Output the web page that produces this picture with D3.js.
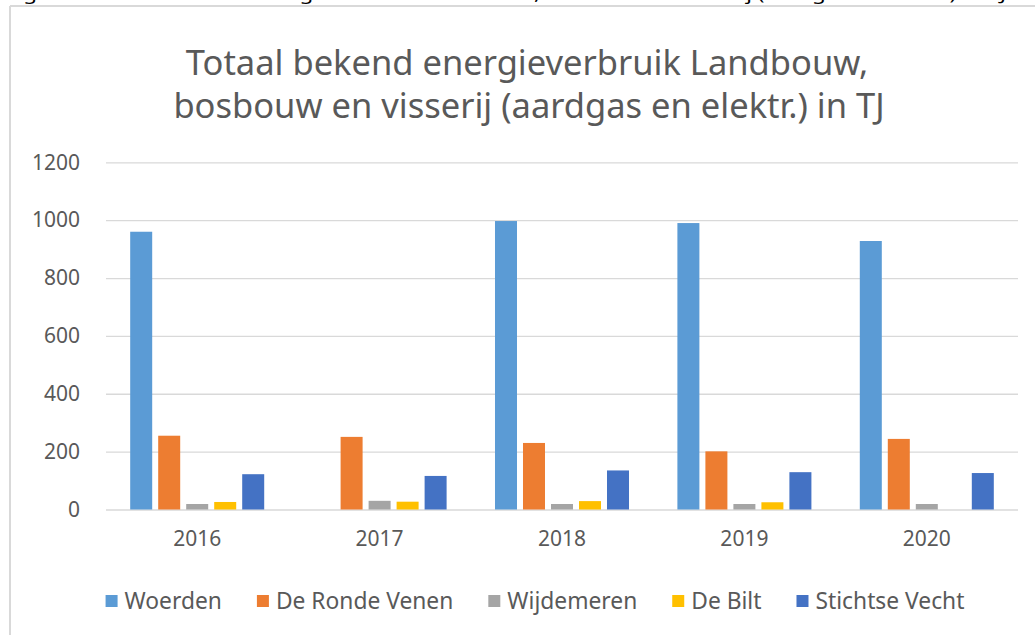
<!DOCTYPE html>
<html>
<head>
<meta charset="utf-8">
<script src="https://cdn.jsdelivr.net/npm/d3@7"></script>
<style>
  html, body { margin: 0; padding: 0; background: #fff; }
  svg { display: block; font-family: "Noto Sans", "Open Sans", sans-serif; }
</style>
</head>
<body>
<svg id="chart" width="1035" height="635"></svg>
<script>
// Energieverbruik per gemeente (TJ), Landbouw, bosbouw en visserij
const years = ["2016", "2017", "2018", "2019", "2020"];
const seriesNames = ["Woerden", "De Ronde Venen", "Wijdemeren", "De Bilt", "Stichtse Vecht"];
const woerden       = [960, null, 997, 990, 928];
const deRondeVenen  = [255, 251, 230, 201, 244];
const wijdemeren    = [19, 30, 19, 19, 19];
const deBilt        = [26, 27, 29, 25, null];
const stichtseVecht = [122, 116, 135, 129, 126];
const yTicks = [0, 200, 400, 600, 800, 1000, 1200];
const seriesColors = ["#5B9BD5", "#ED7D31", "#A5A5A5", "#FFC000", "#4472C4"];

const seriesValues = [woerden, deRondeVenen, wijdemeren, deBilt, stichtseVecht];

const svg = d3.select("#chart");
const textColor = "#595959";
const gridColor = "#D9D9D9";

// Caption above the chart frame (runs off the top of the page)
svg.append("text")
  .attr("x", 6).attr("y", 0)
  .attr("fill", "#000")
  .attr("font-size", 17)
  .attr("textLength", 1000)
  .attr("lengthAdjust", "spacingAndGlyphs")
  .text("Figuur 3 Totaal bekend energieverbruik Landbouw, bosbouw en visserij (aardgas en elektr.) in TJ");

// Chart frame
svg.append("line").attr("x1", 10).attr("x2", 1035).attr("y1", 6).attr("y2", 6)
  .attr("stroke", gridColor).attr("stroke-width", 2);
svg.append("line").attr("x1", 10).attr("x2", 10).attr("y1", 6).attr("y2", 635)
  .attr("stroke", gridColor).attr("stroke-width", 2);

// Title
const title = svg.append("text")
  .attr("text-anchor", "middle")
  .attr("fill", textColor)
  .attr("font-size", 34.5);
title.append("tspan").attr("x", 527).attr("y", 75).text("Totaal bekend energieverbruik Landbouw,");
title.append("tspan").attr("x", 529).attr("y", 118).text("bosbouw en visserij (aardgas en elektr.) in TJ");

// Scales
const x = d3.scaleBand().domain(years).range([106, 1018]);
const xInner = d3.scaleBand().domain(seriesNames).range([0, x.bandwidth()])
  .paddingInner(6 / 28).paddingOuter(0.864);
const y = d3.scaleLinear().domain([0, 1200]).range([509.5, 162.3]);

// Gridlines and y-axis labels
const yAxis = d3.axisLeft(y).tickValues(yTicks).tickFormat(d3.format("d"))
  .tickSize(-(1018 - 106)).tickPadding(26);
const gy = svg.append("g").attr("transform", "translate(106,0)").call(yAxis);
gy.select(".domain").remove();
gy.selectAll(".tick line").attr("stroke", gridColor).attr("stroke-width", 1.3);
gy.selectAll(".tick text").attr("fill", textColor).attr("font-size", 21)
  .attr("font-family", "Noto Sans, sans-serif");

// Bars
const barGroups = svg.append("g").selectAll("g")
  .data(years)
  .join("g")
  .attr("transform", d => `translate(${x(d)},0)`);

barGroups.selectAll("rect")
  .data((yr, i) => seriesNames
    .map((name, s) => ({ name, s, value: seriesValues[s][i] }))
    .filter(d => d.value != null))
  .join("rect")
  .attr("x", d => xInner(d.name))
  .attr("width", xInner.bandwidth())
  .attr("y", d => y(d.value))
  .attr("height", d => y(0) - y(d.value))
  .attr("fill", d => seriesColors[d.s]);

// X-axis labels
const xAxis = d3.axisBottom(x).tickSize(0).tickPadding(22);
const gx = svg.append("g").attr("transform", "translate(0,509.5)").call(xAxis);
gx.select(".domain").remove();
gx.selectAll(".tick text").attr("fill", textColor).attr("font-size", 21)
  .attr("font-family", "Noto Sans, sans-serif");

// Legend, laid out left to right and centred
const legend = svg.append("g");
const items = legend.selectAll("g").data(seriesNames).join("g");
items.append("rect").attr("width", 12).attr("height", 12).attr("y", -6)
  .attr("fill", (d, i) => seriesColors[i]);
items.append("text").attr("x", 19).attr("dy", "0.35em")
  .attr("fill", textColor).attr("font-size", 22.8).text(d => d);
let cursor = 0;
items.each(function () {
  const g = d3.select(this);
  g.attr("transform", `translate(${cursor},0)`);
  cursor += 19 + g.select("text").node().getComputedTextLength() + 35;
});
const legendWidth = cursor - 35;
legend.attr("transform", `translate(${535 - legendWidth / 2},601)`);
</script>
</body>
</html>
